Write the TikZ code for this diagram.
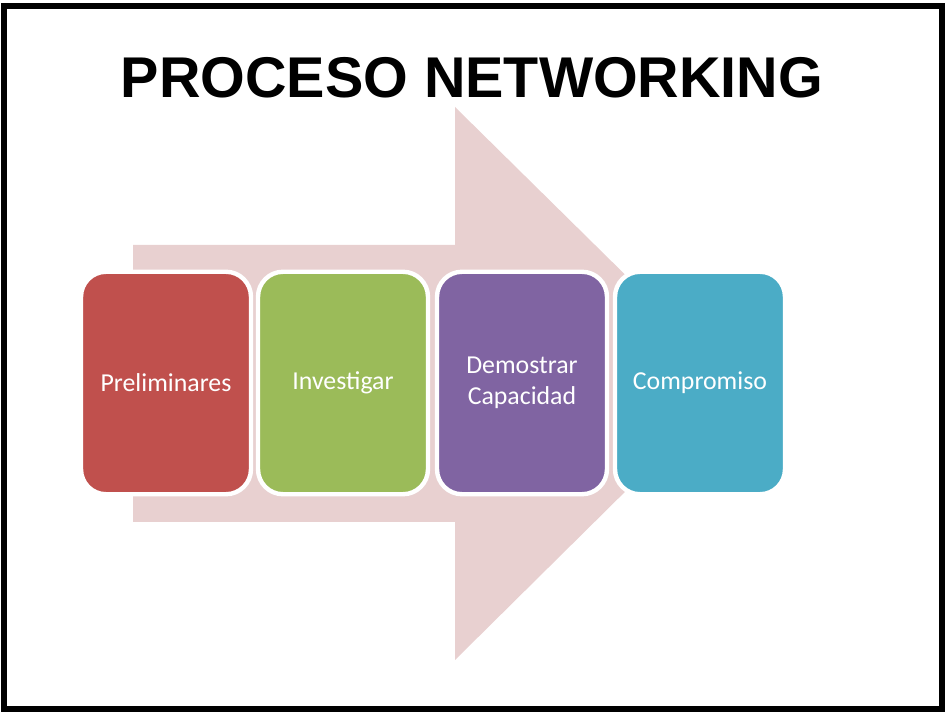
\documentclass[tikz,border=0pt]{standalone}
\usepackage{fontspec}
\setmainfont{Carlito}
\newfontfamily\titlefont{Liberation Sans}
\definecolor{arrowpink}{RGB}{232,208,208}
\definecolor{boxred}{RGB}{192,80,77}
\definecolor{boxgreen}{RGB}{155,187,89}
\definecolor{boxpurple}{RGB}{128,100,162}
\definecolor{boxblue}{RGB}{75,172,198}
\begin{document}
\begin{tikzpicture}[x=0.02cm, y=-0.02cm,
    stage/.style={draw=white, line width=2.5pt, rounded corners=0.5cm, minimum width=3.4cm, minimum height=4.45cm, text=white, align=center, font=\fontsize{14.7}{17.5}\selectfont}]
        % Frame
        \useasboundingbox (0,0) rectangle (948,716);
        \draw[line width=3.2pt] (4,6) rectangle (942,709);
        \node[font=\titlefont\bfseries\fontsize{32.7}{36}\selectfont] (title) at (472,78) {PROCESO NETWORKING};

        % Arrow
        \fill[arrowpink] (133,245) -- (455,245) -- (455,107) -- (735,383) -- (455,660) -- (455,522) -- (133,522) -- cycle;

        % Stages
        \node[stage, fill=boxred] (pre) at (166,383) {Preliminares};
        \node[stage, fill=boxgreen] (inv) at (343,383) {Investigar};
        \node[stage, fill=boxpurple] (dem) at (522,383) {Demostrar\\Capacidad};
        \node[stage, fill=boxblue] (com) at (700,383) {Compromiso};
    \end{tikzpicture}
\end{document}
